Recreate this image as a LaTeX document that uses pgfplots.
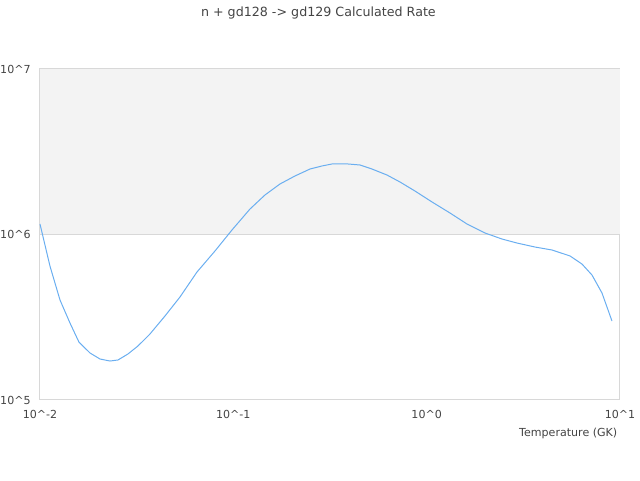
\documentclass[border=0pt]{standalone}
\usepackage{pgfplots}
\pgfplotsset{compat=1.18}
\usepackage{fontspec}
\setmainfont{DejaVu Sans}
\definecolor{txt}{HTML}{444444}
\definecolor{frame}{HTML}{D8D8D8}
\definecolor{band}{HTML}{F3F3F3}
\definecolor{line}{HTML}{6AAEF0}
\begin{document}
\begin{tikzpicture}
\begin{axis}[
  at={(0,0)}, anchor=south west,
  scale only axis, width=435pt, height=248.25pt,
  xmode=log, ymode=log,
  xmin=0.01, xmax=10, ymin=1e5, ymax=1e7,
  xtick={0.01,0.1,1,10},
  xticklabels={10\textasciicircum-2,10\textasciicircum-1,10\textasciicircum0,10\textasciicircum1},
  ytick={1e5,1e6,1e7},
  yticklabels={10\textasciicircum5,10\textasciicircum6,10\textasciicircum7},
  minor xtick={}, minor ytick={},
  tick style={draw=none},
  axis line style={frame, line width=0.75pt},
  ymajorgrids, grid style={frame, line width=0.75pt},
  tick label style={font=\fontsize{8.3pt}{10pt}\selectfont, text=txt},
  yticklabel style={anchor=east, xshift=-3.5pt},
  xticklabel style={yshift=-4pt},
  title={n + gd128 -> gd129 Calculated Rate},
  title style={font=\fontsize{9.5pt}{11pt}\selectfont, text=txt, at={(0.48,1)}, yshift=27.5pt},
  xlabel={Temperature (GK)},
  xlabel style={font=\fontsize{8.3pt}{10pt}\selectfont, text=txt, at={(1,0)}, anchor=north east, yshift=-17.5pt, xshift=1.5pt},
  clip=false,
  axis on top=false,
]
\fill[band] (axis cs:0.01,1e6) rectangle (axis cs:10,1e7);
\draw[frame, line width=0.75pt] (axis cs:0.01,1e6) -- (axis cs:10,1e6);
\addplot[line, line width=0.75pt, no marks] coordinates {
(0.01,1.157e6) (0.01126,6.45e5) (0.01269,4.02e5) (0.01429,2.92e5) (0.0159,2.24e5)
(0.01814,1.923e5) (0.02043,1.769e5) (0.02301,1.72e5) (0.02532,1.745e5) (0.02851,1.897e5)
(0.03212,2.12e5) (0.03707,2.506e5) (0.04431,3.218e5) (0.05297,4.19e5) (0.06487,5.935e5)
(0.08037,7.95e5) (0.09842,1.065e6) (0.122,1.426e6) (0.1458,1.733e6) (0.1743,2.019e6)
(0.2084,2.257e6) (0.2492,2.487e6) (0.2874,2.594e6) (0.3238,2.667e6) (0.3918,2.667e6)
(0.4519,2.63e6) (0.5215,2.487e6) (0.6234,2.288e6) (0.7278,2.076e6) (0.8703,1.831e6)
(1.066,1.572e6) (1.32,1.349e6) (1.617,1.157e6) (2.003,1.021e6) (2.453,9.39e5)
(2.933,8.88e5) (3.634,8.4e5) (4.449,8.06e5) (5.513,7.42e5) (6.36,6.63e5)
(7.165,5.69e5) (8.07,4.43e5) (9.09,3.0e5)
};
\end{axis}
\pgfresetboundingbox
\path (-30pt,-60pt) rectangle (450pt,300pt);
\end{tikzpicture}
\end{document}
